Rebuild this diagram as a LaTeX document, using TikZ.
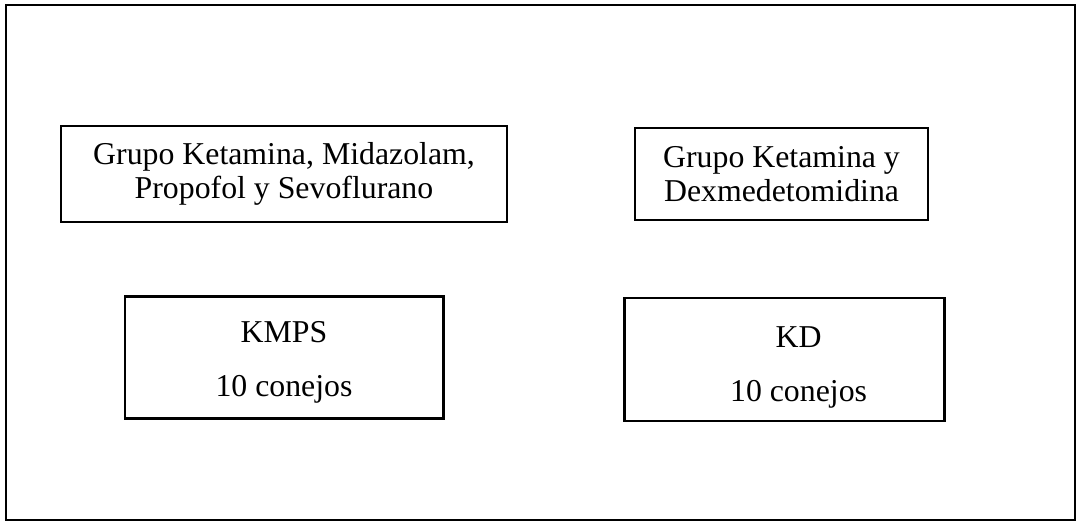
\documentclass[tikz,border=0pt]{standalone}
\usepackage{fontspec}
\setmainfont{Liberation Serif}

\tikzset{
  grupo/.style={draw, line width=0.5pt, align=center, inner sep=0pt,
    font=\fontsize{12}{12.6}\selectfont},
  conteo/.style={draw, line width=1.1pt, align=center, inner sep=0pt,
    font=\fontsize{12}{12.6}\selectfont}
}

\begin{document}
\begin{tikzpicture}[x=0.013263cm,y=-0.013263cm]
\useasboundingbox (0,0) rectangle (1078,522);
\draw[line width=0.8pt] (6,5) rectangle (1075,520);

% grupos
\node[grupo, minimum width=168.3pt, minimum height=36.2pt] (kmpsgrupo) at (284,174)
  {Grupo Ketamina, Midazolam,\\Propofol y Sevoflurano};
\node[grupo, minimum width=110.6pt, minimum height=34.7pt] (kdgrupo) at (781.5,174)
  {Grupo Ketamina y\\Dexmedetomidina};

% numero de conejos
\node[conteo, minimum width=120pt, minimum height=45.7pt] (kmps) at (284,357.5)
  {\rule{0pt}{11.7pt}KMPS\\[8pt]10 conejos};
\node[conteo, minimum width=120.4pt, minimum height=46.4pt] (kd) at (784.5,359.5)
  {\rule{0pt}{13.9pt}\hspace*{10.6pt}KD\\[8pt]\hspace*{10.6pt}10 conejos};

\end{tikzpicture}
\end{document}
